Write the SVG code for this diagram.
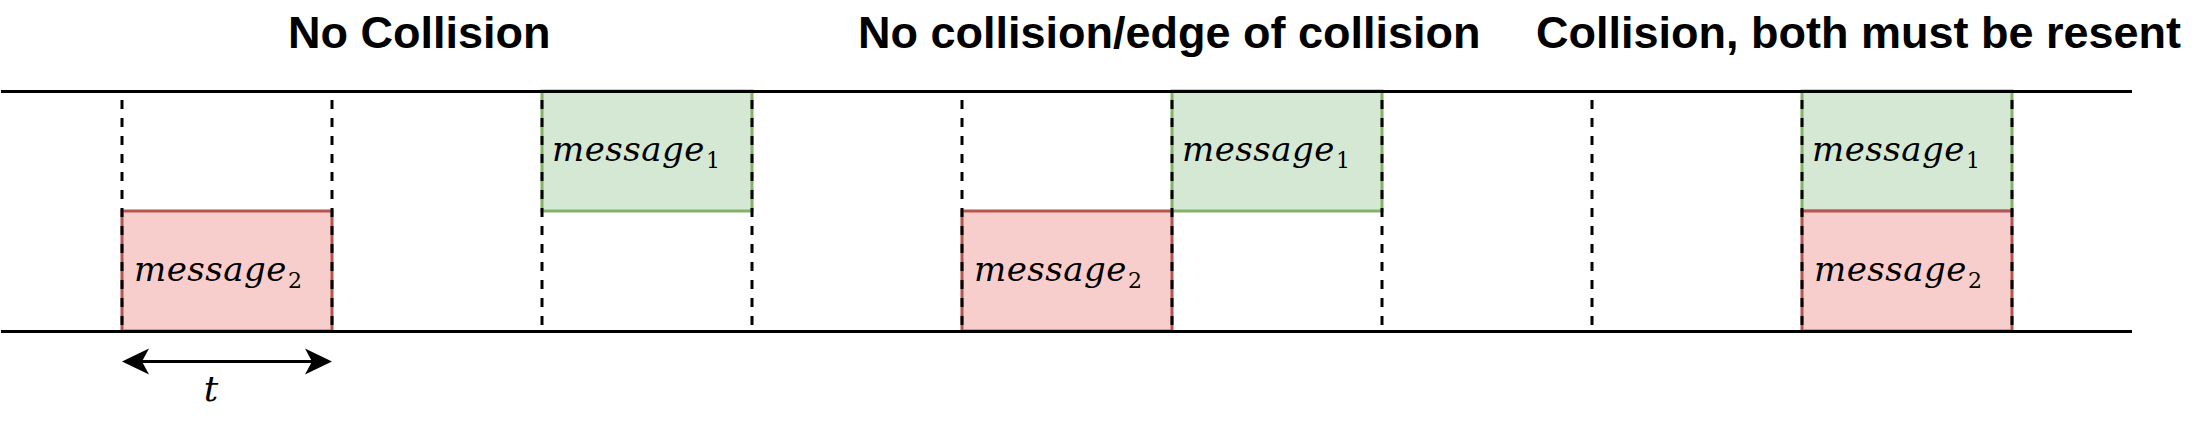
<svg xmlns="http://www.w3.org/2000/svg" width="2196" height="447" viewBox="0 0 2196 447">
<style>
.title{font-family:"Liberation Sans",Arial,sans-serif;font-weight:bold;font-size:45px;fill:#000}
.msg{font-family:"DejaVu Serif",serif;font-style:italic;font-size:34px;letter-spacing:0.5px;fill:#000}
.sub{font-style:normal;font-size:22px;letter-spacing:0}
.red{fill:#f8cecc;stroke:#b85450;stroke-width:3}
.green{fill:#d5e8d4;stroke:#82b366;stroke-width:3}
.rail{stroke:#000;stroke-width:3;fill:none}
.dash{stroke:#000;stroke-width:3;stroke-dasharray:9 9;fill:none}
.tlabel{font-family:"DejaVu Serif",serif;font-style:italic;font-size:36px;fill:#000}
</style>
<rect width="2196" height="447" fill="#fff"/>
<g id="title-no-collision"><text class="title" x="288" y="48">No Collision</text></g>
<g id="title-edge"><text class="title" x="858" y="48">No collision/edge of collision</text></g>
<g id="title-collision"><text class="title" x="1536" y="48">Collision, both must be resent</text></g>

<g id="msg2-a"><rect class="red" x="122" y="211" width="210" height="120"/><text class="msg" x="134" y="281">message<tspan class="sub" dx="1" dy="7">2</tspan></text></g>
<g id="msg1-a"><rect class="green" x="542" y="91" width="210" height="120"/><text class="msg" x="552" y="161">message<tspan class="sub" dx="1" dy="7">1</tspan></text></g>
<g id="msg2-b"><rect class="red" x="962" y="211" width="210" height="120"/><text class="msg" x="974" y="281">message<tspan class="sub" dx="1" dy="7">2</tspan></text></g>
<g id="msg1-b"><rect class="green" x="1172" y="91" width="210" height="120"/><text class="msg" x="1182" y="161">message<tspan class="sub" dx="1" dy="7">1</tspan></text></g>
<g id="msg1-c"><rect class="green" x="1802" y="91" width="210" height="120"/><text class="msg" x="1812" y="161">message<tspan class="sub" dx="1" dy="7">1</tspan></text></g>
<g id="msg2-c"><rect class="red" x="1802" y="211" width="210" height="120"/><text class="msg" x="1814" y="281">message<tspan class="sub" dx="1" dy="7">2</tspan></text></g>

<g id="rails">
<line class="rail" x1="1" y1="91.5" x2="2132" y2="91.5"/>
<line class="rail" x1="1" y1="331.5" x2="2132" y2="331.5"/>
</g>
<g id="slots">
<line class="dash" x1="122" y1="100" x2="122" y2="325"/>
<line class="dash" x1="332" y1="100" x2="332" y2="325"/>
<line class="dash" x1="542" y1="100" x2="542" y2="325"/>
<line class="dash" x1="752" y1="100" x2="752" y2="325"/>
<line class="dash" x1="962" y1="100" x2="962" y2="325"/>
<line class="dash" x1="1172" y1="100" x2="1172" y2="325"/>
<line class="dash" x1="1382" y1="100" x2="1382" y2="325"/>
<line class="dash" x1="1592" y1="100" x2="1592" y2="325"/>
<line class="dash" x1="1802" y1="100" x2="1802" y2="325"/>
<line class="dash" x1="2012" y1="100" x2="2012" y2="325"/>
</g>
<g id="connectors">
<line x1="140" y1="361.5" x2="314" y2="361.5" stroke="#000" stroke-width="3"/>
<path d="M122,361.5 L149,348.5 L142,361.5 L149,374.5 Z" fill="#000"/>
<path d="M332,361.5 L305,348.5 L312,361.5 L305,374.5 Z" fill="#000"/>
</g>
<g id="label-t"><text class="tlabel" x="211" y="401" text-anchor="middle">t</text></g>
</svg>
